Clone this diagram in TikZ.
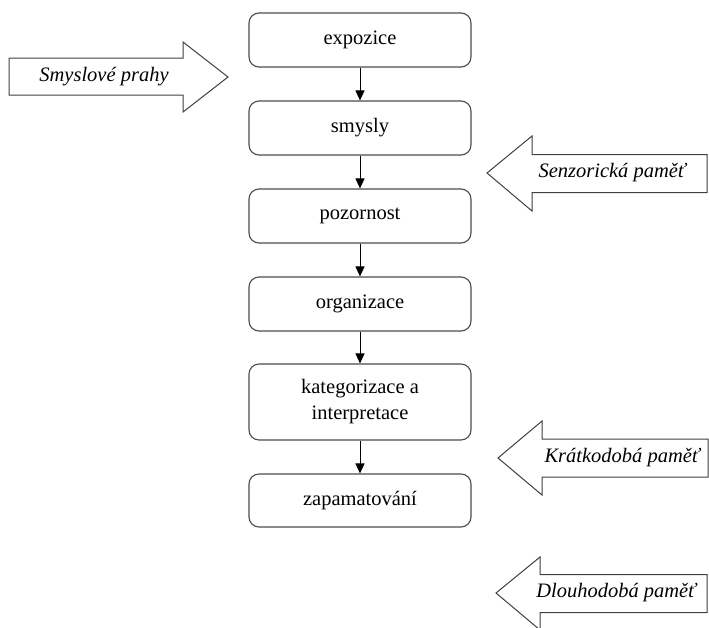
\documentclass[tikz,border=0pt]{standalone}
\usepackage{fontspec}
\setmainfont{Liberation Serif}
\usetikzlibrary{arrows.meta}
\begin{document}
\begin{tikzpicture}[x=1pt,y=-1pt,
  stepbox/.style={draw=black!70,line width=1.1pt,rounded corners=10pt,minimum width=222pt,minimum height=54pt,inner sep=0pt,align=center,font=\fontsize{20.5}{26}\selectfont,fill=white},
  flow/.style={draw=black,line width=1pt,-{Triangle[length=10pt,width=9pt]}},
  bigarrow/.style={draw=black!75,line width=1pt,fill=white},
  arrowtext/.style={font=\fontsize{20.5}{24}\selectfont\itshape,inner sep=0pt}]
\useasboundingbox (0,0) rectangle (709,627);
\clip (0,0) rectangle (709,627);
% flow boxes
\node[stepbox] (b1) at (360,40) {expozice};
\node[stepbox] (b2) at (360,128) {smysly};
\node[stepbox] (b3) at (360,216) {pozornost};
\node[stepbox] (b4) at (360,304) {organizace};
\node[stepbox,minimum height=76pt] (b5) at (360,402) {kategorizace a\\interpretace};
\node[stepbox,minimum height=53pt] (b6) at (360,500.5) {zapamatování};
\draw[flow] (b1) -- (b2);
\draw[flow] (b2) -- (b3);
\draw[flow] (b3) -- (b4);
\draw[flow] (b4) -- (b5);
\draw[flow] (b5) -- (b6);
% side arrows
\draw[bigarrow] (9,58) -- (183,58) -- (183,42) -- (228,77) -- (183,112) -- (183,95) -- (9,95) -- cycle;
\node[arrowtext] (a1) at (104,77) {Smyslové prahy};
\draw[bigarrow] (707,154.5) -- (532,154.5) -- (532,136) -- (487,173) -- (532,211) -- (532,192.5) -- (707,192.5) -- cycle;
\node[arrowtext] (a2) at (612,173) {Senzorická paměť};
\draw[bigarrow] (708,439) -- (542,439) -- (542,421) -- (498,458) -- (542,495) -- (542,477) -- (708,477) -- cycle;
\node[arrowtext] (a3) at (622,458) {Krátkodobá paměť};
\draw[bigarrow] (707,574.5) -- (540,574.5) -- (540,557) -- (496,593) -- (540,630) -- (540,612.5) -- (707,612.5) -- cycle;
\node[arrowtext] (a4) at (616,593) {Dlouhodobá paměť};
\end{tikzpicture}
\end{document}
